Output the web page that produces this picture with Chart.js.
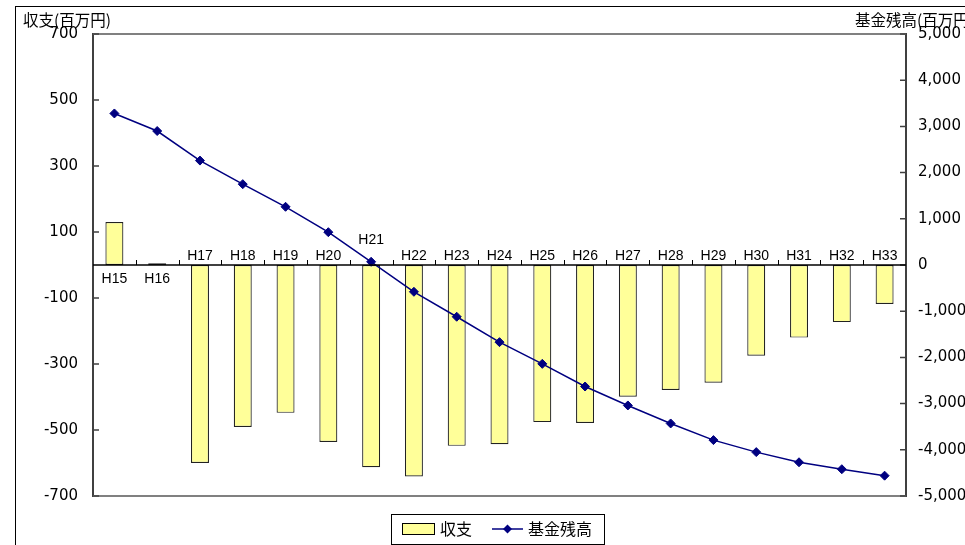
<!DOCTYPE html>
<html>
<head>
<meta charset="utf-8">
<script src="https://cdn.jsdelivr.net/npm/chart.js@4.4.1/dist/chart.umd.min.js"></script>
<style>
html,body{margin:0;padding:0;background:#fff;}
#wrap{width:965px;height:545px;position:relative;}
canvas{display:block;}
</style>
</head>
<body>
<div id="wrap"><canvas id="c" width="965" height="545"></canvas></div>
<script>
const categories = ['H15','H16','H17','H18','H19','H20','H21','H22','H23','H24','H25','H26','H27','H28','H29','H30','H31','H32','H33'];
const balance = [130, 5, -600, -491, -448, -536, -613, -641, -548, -543, -476, -479, -399, -379, -357, -275, -220, -173, -118];
const fund = [3280, 2900, 2260, 1750, 1260, 710, 70, -580, -1120, -1670, -2140, -2630, -3040, -3430, -3790, -4050, -4270, -4420, -4560];
const leftTicks = [-700, -500, -300, -100, 100, 300, 500, 700];
const rightTicks = [-5000, -4000, -3000, -2000, -1000, 0, 1000, 2000, 3000, 4000, 5000];
const leftTitle = '収支(百万円)';
const rightTitle = '基金残高(百万円)';
const barLabel = '収支';
const lineLabel = '基金残高';

const FONT = "'Liberation Sans', Arial, 'Noto Sans CJK JP', sans-serif";
const TICKFONT = "'DejaVu Sans', 'Liberation Sans', sans-serif";
const CJK = "'Noto Sans CJK JP', 'Liberation Sans', sans-serif";
const NAVY = '#000080';
const YELLOW = '#FFFF99';
const AXIS = '#404040';

function fmt(v){
  const s = Math.abs(v).toLocaleString('en-US');
  return v < 0 ? '-' + s : s;
}

const decor = {
  id: 'decor',
  beforeDatasetsDraw(chart){
    const ctx = chart.ctx, a = chart.chartArea;
    ctx.save();
    ctx.strokeStyle = '#808080';
    ctx.lineWidth = 2;
    ctx.beginPath();
    ctx.moveTo(a.left, a.top); ctx.lineTo(a.right, a.top);
    ctx.moveTo(a.left, a.bottom); ctx.lineTo(a.right, a.bottom);
    ctx.stroke();
    // inward tick marks on value axes
    ctx.strokeStyle = AXIS;
    ctx.lineWidth = 1.5;
    ctx.beginPath();
    leftTicks.forEach(v => {
      const y = chart.scales.y.getPixelForValue(v);
      ctx.moveTo(a.left, y); ctx.lineTo(a.left + 6, y);
    });
    rightTicks.forEach(v => {
      const y = chart.scales.y1.getPixelForValue(v);
      ctx.moveTo(a.right - 6, y); ctx.lineTo(a.right, y);
    });
    ctx.stroke();
    ctx.restore();
  },
  afterDatasetsDraw(chart){
    const ctx = chart.ctx, a = chart.chartArea;
    const xs = chart.scales.x, ys = chart.scales.y;
    const y0 = ys.getPixelForValue(0);
    ctx.save();
    ctx.strokeStyle = '#000';
    ctx.lineWidth = 1.5;
    ctx.beginPath();
    ctx.moveTo(a.left, y0); ctx.lineTo(a.right, y0);
    ctx.stroke();
    ctx.lineWidth = 1;
    const n = categories.length;
    const step = (a.right - a.left) / n;
    ctx.beginPath();
    for (let i = 1; i < n; i++) {
      const x = Math.round(a.left + i * step) + 0.5;
      ctx.moveTo(x, y0); ctx.lineTo(x, y0 - 5);
    }
    ctx.stroke();
    const lineMeta = chart.getDatasetMeta(0);
    ctx.font = '14px ' + FONT;
    ctx.fillStyle = '#000';
    ctx.textAlign = 'center';
    ctx.textBaseline = 'middle';
    categories.forEach((c, i) => {
      const x = xs.getPixelForValue(i);
      let y;
      if (balance[i] >= 0) {
        y = y0 + 14;
      } else {
        y = y0 - 9;
        const p = lineMeta.data[i];
        if (p && Math.abs(p.y - y) < 12) y = p.y - 22;
      }
      ctx.fillText(c, x, y);
    });
    ctx.restore();
  },
  afterDraw(chart){
    const ctx = chart.ctx;
    ctx.save();
    ctx.strokeStyle = '#000';
    ctx.lineWidth = 1;
    ctx.strokeRect(15.5, 6.5, 1000, 600);
    ctx.fillStyle = '#000';
    ctx.font = '15.5px ' + CJK;
    ctx.textBaseline = 'middle';
    ctx.textAlign = 'left';
    ctx.fillText(leftTitle, 23, 20);
    ctx.fillText(rightTitle, 855, 20);
    // legend
    ctx.fillStyle = '#fff';
    ctx.fillRect(391.5, 514.5, 213, 30);
    ctx.strokeStyle = '#000';
    ctx.strokeRect(391.5, 514.5, 213, 30);
    ctx.fillStyle = YELLOW;
    ctx.fillRect(402.5, 523.5, 32, 11);
    ctx.strokeStyle = '#000';
    ctx.strokeRect(402.5, 523.5, 32, 11);
    ctx.fillStyle = '#000';
    ctx.font = '16px ' + CJK;
    ctx.textAlign = 'left';
    ctx.fillText(barLabel, 440, 529);
    ctx.strokeStyle = NAVY;
    ctx.lineWidth = 1.5;
    ctx.beginPath();
    ctx.moveTo(492, 529); ctx.lineTo(523, 529);
    ctx.stroke();
    ctx.fillStyle = NAVY;
    ctx.beginPath();
    ctx.moveTo(507.5, 524.5); ctx.lineTo(512, 529); ctx.lineTo(507.5, 533.5); ctx.lineTo(503, 529);
    ctx.closePath(); ctx.fill();
    ctx.fillStyle = '#000';
    ctx.fillText(lineLabel, 528, 529);
    ctx.restore();
  }
};

new Chart(document.getElementById('c'), {
  type: 'bar',
  data: {
    labels: categories,
    datasets: [
      {
        type: 'line',
        label: lineLabel,
        data: fund,
        yAxisID: 'y1',
        borderColor: NAVY,
        backgroundColor: NAVY,
        borderWidth: 1.5,
        pointStyle: 'rectRot',
        pointRadius: 4.5,
        pointBorderWidth: 1,
        tension: 0,
        order: 1
      },
      {
        type: 'bar',
        label: barLabel,
        data: balance,
        yAxisID: 'y',
        backgroundColor: YELLOW,
        borderColor: '#222',
        borderWidth: 1.2,
        borderSkipped: false,
        barPercentage: 0.42,
        categoryPercentage: 1,
        order: 2
      }
    ]
  },
  options: {
    responsive: false,
    animation: false,
    devicePixelRatio: 1,
    layout: { padding: { top: 34, bottom: 49, left: 0, right: 0 } },
    plugins: { legend: { display: false }, tooltip: { enabled: false } },
    scales: {
      x: { display: false, offset: true },
      y: {
        position: 'left',
        min: -700, max: 700,
        afterBuildTicks(s){ s.ticks = leftTicks.map(v => ({ value: v })); },
        afterFit(s){ s.width = 93; },
        ticks: { font: { size: 15, family: TICKFONT }, color: '#000', padding: 15, callback: v => fmt(v) },
        grid: { display: true, drawOnChartArea: false, drawTicks: false },
        border: { display: true, color: AXIS, width: 2 }
      },
      y1: {
        position: 'right',
        min: -5000, max: 5000,
        afterBuildTicks(s){ s.ticks = rightTicks.map(v => ({ value: v })); },
        afterFit(s){ s.width = 59; },
        ticks: { font: { size: 15, family: TICKFONT }, color: '#000', padding: 12, callback: v => fmt(v) },
        grid: { display: true, drawOnChartArea: false, drawTicks: false },
        border: { display: true, color: AXIS, width: 2 }
      }
    }
  },
  plugins: [decor]
});
</script>
</body>
</html>
